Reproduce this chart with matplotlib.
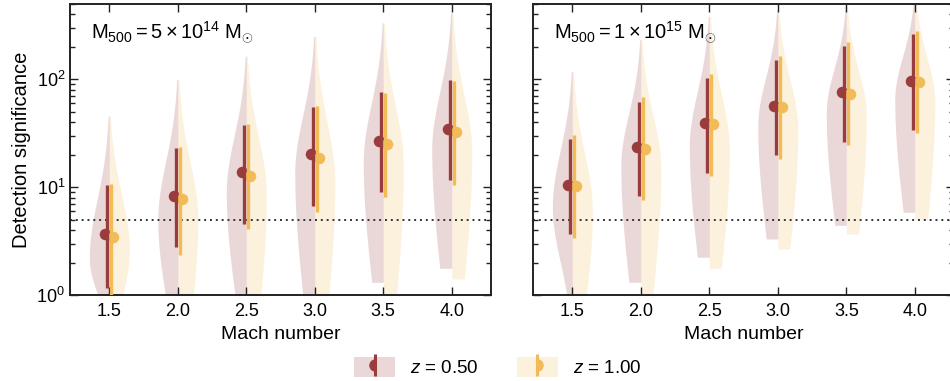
import numpy as np
import matplotlib.pyplot as plt
from matplotlib.lines import Line2D
from matplotlib.patches import Patch
from matplotlib.legend_handler import HandlerTuple
from matplotlib.ticker import LogLocator, NullFormatter, FixedLocator

plt.rcParams['font.family'] = ['Liberation Sans', 'DejaVu Sans']
plt.rcParams['mathtext.fontset'] = 'custom'
plt.rcParams['mathtext.rm'] = 'Liberation Sans'
plt.rcParams['mathtext.it'] = 'Liberation Sans:italic'
plt.rcParams['mathtext.bf'] = 'Liberation Sans:bold'

RED = '#993c3e'
YEL = '#f1bb57'
HALF_W = 0.146

mach = [1.5, 2.0, 2.5, 3.0, 3.5, 4.0]

# panel a: M500 = 5e14 -- median and error bar ends
med_a_05 = [3.66, 8.24, 13.8, 20.1, 27.1, 34.8]
lo_a_05 = [1.17, 2.77, 4.56, 6.65, 8.98, 11.7]
hi_a_05 = [10.4, 23.2, 37.9, 55.3, 75.7, 97.9]
med_a_10 = [3.43, 7.73, 12.8, 18.5, 25.4, 32.4]
lo_a_10 = [0.9, 2.37, 4.07, 5.94, 8.13, 10.5]
hi_a_10 = [10.6, 23.5, 38.5, 56.1, 74.6, 96.4]

# panel a violins: bottom, widest point, tip, relative width at bottom
vbot_a_05 = [1.0, 1.0, 1.0, 1.0, 1.31, 1.77]
vpk_a_05 = [2.2, 5.0, 8.9, 13.6, 17.0, 22.4]
vtip_a_05 = [46, 100, 165, 253, 336, 416]
vw_a_05 = [0.58, 0.62, 0.57, 0.60, 0.58, 0.60]
vbot_a_10 = [1.0, 1.0, 1.0, 1.0, 1.0, 1.41]
vpk_a_10 = [2.6, 5.0, 8.5, 11.0, 16.0, 21.0]
vtip_a_10 = [46, 100, 165, 253, 336, 416]
vw_a_10 = [0.67, 0.77, 0.73, 0.70, 0.67, 0.63]

# panel b: M500 = 1e15
med_b_05 = [10.4, 23.4, 39.0, 56.5, 75.7, 97.3]
lo_b_05 = [3.66, 8.24, 13.6, 19.7, 26.2, 33.8]
hi_b_05 = [27.7, 62.1, 102, 150, 204, 264]
med_b_10 = [10.3, 22.7, 38.2, 55.3, 73.6, 95.2]
lo_b_10 = [3.36, 7.57, 12.6, 18.2, 24.5, 31.5]
hi_b_10 = [30.6, 68.1, 112, 164, 221, 283]

vbot_b_05 = [1.0, 1.31, 2.24, 3.31, 4.43, 5.85]
vpk_b_05 = [6.6, 15.7, 24.0, 36.8, 49.0, 65.0]
vtip_b_05 = [119, 235, 387, 447, 480, 600]
vw_b_05 = [0.28, 0.60, 0.60, 0.58, 0.58, 0.58]
vbot_b_10 = [1.0, 1.0, 1.77, 2.67, 3.69, 5.0]
vpk_b_10 = [6.0, 14.5, 22.0, 34.0, 46.0, 62.0]
vtip_b_10 = [119, 235, 387, 447, 480, 600]
vw_b_10 = [0.70, 0.60, 0.60, 0.60, 0.62, 0.64]

threshold = 5.0


def half_violin(ax, x, side, bot, pk, tip, wbot, color):
    t_lo, t_pk, t_hi = np.log10([bot, pk, tip])
    s_up = (t_hi - t_pk) / 2.4
    s_dn = (t_pk - t_lo) / np.sqrt(2 * np.log(1 / wbot))
    t = np.linspace(t_lo, t_hi, 400)
    s = np.where(t > t_pk, s_up, s_dn)
    w = HALF_W * np.exp(-0.5 * ((t - t_pk) / s) ** 2)
    w[-1] = 0
    y = 10 ** t
    if side < 0:
        ax.fill_betweenx(y, x - w, x, color=color, alpha=0.2, lw=0, zorder=1)
    else:
        ax.fill_betweenx(y, x, x + w, color=color, alpha=0.2, lw=0, zorder=1)


def panel(ax, red, yel, label):
    for i, m in enumerate(mach):
        half_violin(ax, m, -1, red[3][i], red[4][i], red[5][i], red[6][i], RED)
        half_violin(ax, m, 1, yel[3][i], yel[4][i], yel[5][i], yel[6][i], YEL)
    xs = np.array(mach)
    ax.axhline(threshold, color='#333333', ls=(0, (1, 2.0)), lw=1.4, zorder=2)
    ax.plot(xs - 0.029, red[0], 'o', ms=8.3, mew=0, color=RED, zorder=4)
    ax.vlines(xs - 0.0146, red[1], red[2], color=RED, lw=2.4, zorder=5)
    ax.plot(xs + 0.029, yel[0], 'o', ms=8.3, mew=0, color=YEL, zorder=4)
    ax.vlines(xs + 0.0146, yel[1], yel[2], color=YEL, lw=2.4, zorder=5)

    ax.set_yscale('log')
    ax.set_ylim(1, 500)
    ax.set_xlim(1.213, 4.287)
    ax.xaxis.set_major_locator(FixedLocator(mach))
    ax.set_xticklabels([f'{m:.1f}' for m in mach])
    ax.yaxis.set_major_locator(LogLocator(base=10, numticks=10))
    ax.yaxis.set_minor_locator(LogLocator(base=10, subs=np.arange(2, 10), numticks=10))
    ax.yaxis.set_minor_formatter(NullFormatter())
    ax.tick_params(which='both', direction='in', top=True, right=True,
                   labelsize=13, width=1.0, color='#222222')
    ax.tick_params(which='major', length=6)
    ax.tick_params(which='minor', length=3.5)
    ax.tick_params(axis='x', pad=6)
    for sp in ax.spines.values():
        sp.set_linewidth(1.4)
        sp.set_color('#222222')
    ax.set_xlabel('Mach number', fontsize=14, labelpad=4)
    ax.text(0.05, 0.88, label, transform=ax.transAxes, fontsize=14.5)


fig = plt.figure(figsize=(9.5, 3.81), dpi=100)
ax1 = fig.add_axes([0.0737, 0.2257, 0.4432, 0.7638])
ax2 = fig.add_axes([0.5611, 0.2257, 0.4432, 0.7638])

panel(ax1,
      [med_a_05, lo_a_05, hi_a_05, vbot_a_05, vpk_a_05, vtip_a_05, vw_a_05],
      [med_a_10, lo_a_10, hi_a_10, vbot_a_10, vpk_a_10, vtip_a_10, vw_a_10],
      r'$\mathrm{M_{500} = 5\times10^{14}\ M_{\odot}}$')
panel(ax2,
      [med_b_05, lo_b_05, hi_b_05, vbot_b_05, vpk_b_05, vtip_b_05, vw_b_05],
      [med_b_10, lo_b_10, hi_b_10, vbot_b_10, vpk_b_10, vtip_b_10, vw_b_10],
      r'$\mathrm{M_{500} = 1\times10^{15}\ M_{\odot}}$')
ax1.set_ylabel('Detection significance', fontsize=14.5, labelpad=4)
ax2.tick_params(axis='y', labelleft=False)

handles = []
for c, fs in [(RED, 'left'), (YEL, 'right')]:
    bg = Patch(facecolor=c, alpha=0.2, lw=0)
    half = Line2D([], [], ls='none', marker='o', fillstyle=fs, ms=9, mew=0,
                  color=c, markerfacecoloralt='none')
    bar = Line2D([], [], ls='none', marker='|', ms=16, mew=2.2, color=c)
    handles.append((bg, half, bar))
fig.legend(handles, [r'$z$ = 0.50', r'$z$ = 1.00'],
           handler_map={tuple: HandlerTuple(ndivide=1, pad=0)},
           loc='center', bbox_to_anchor=(0.524, 0.037), ncol=2, frameon=False,
           fontsize=13.5, handlelength=2.2, handleheight=1.25,
           handletextpad=0.8, columnspacing=2.0, borderpad=0)

fig.savefig('out.png', dpi=100)
